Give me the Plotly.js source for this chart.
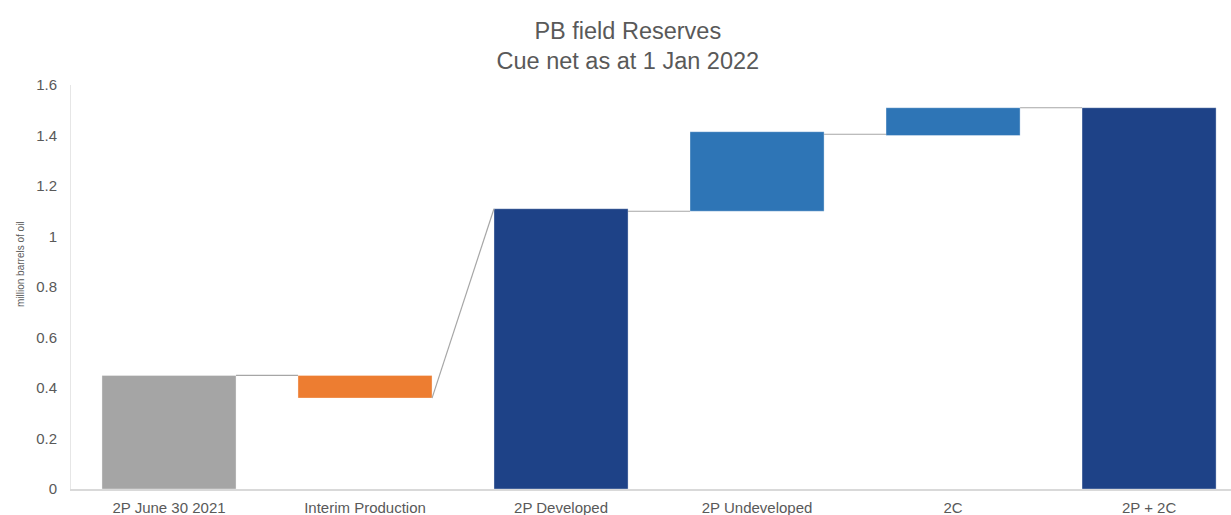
<!DOCTYPE html>
<html>
<head>
<meta charset="utf-8">
<script src="https://cdn.plot.ly/plotly-3.0.1.min.js"></script>
<style>html,body{margin:0;padding:0;background:#fff;}#chart{width:1231px;height:515px;}</style>
</head>
<body>
<div id="chart"></div>
<script>
// Data
var categories = ['2P June 30 2021', 'Interim Production', '2P Developed', '2P Undeveloped', '2C', '2P + 2C'];
var barBases = [0, 0.36, 0, 1.10, 1.40, 0];
var barTops = [0.45, 0.45, 1.11, 1.415, 1.51, 1.51];
var barColors = ['#A5A5A5', '#ED7D31', '#1E4287', '#2E75B6', '#2E75B6', '#1E4287'];
// connector levels: leaving bar i (end level) -> arriving at bar i+1 (start level)
var connFrom = [0.45, 0.36, 1.10, 1.405, 1.51];
var connTo = [0.45, 1.11, 1.10, 1.405, 1.51];
var yTickVals = [0, 0.2, 0.4, 0.6, 0.8, 1, 1.2, 1.4, 1.6];
var yTickText = ['0', '0.2', '0.4', '0.6', '0.8', '1', '1.2', '1.4', '1.6'];

var barWidth = 0.684;
var idx = categories.map(function(_, i){ return i; });

var traces = [];
traces.push({
  type: 'bar',
  x: idx,
  y: barTops.map(function(t, i){ return t - barBases[i]; }),
  base: barBases,
  width: barWidth,
  marker: {color: barColors, line: {color: 'rgba(255,255,255,0.35)', width: 1}},
  hoverinfo: 'skip',
  showlegend: false
});

var cx = [], cy = [];
for (var i = 0; i < connFrom.length; i++) {
  cx.push(i + barWidth / 2, i + 1 - barWidth / 2, null);
  cy.push(connFrom[i], connTo[i], null);
}
traces.push({
  type: 'scatter',
  mode: 'lines',
  x: cx,
  y: cy,
  line: {color: '#A6A6A6', width: 1.2},
  hoverinfo: 'skip',
  showlegend: false,
  cliponaxis: false
});

var layout = {
  width: 1231,
  height: 515,
  margin: {l: 71, r: 0, t: 85, b: 26},
  paper_bgcolor: '#ffffff',
  plot_bgcolor: '#ffffff',
  font: {family: 'Liberation Sans, Arial, sans-serif', color: '#595959'},
  title: {
    text: 'PB field Reserves<br>Cue net as at 1 Jan 2022',
    x: 0.51,
    xanchor: 'center',
    y: 0.925,
    yanchor: 'top',
    font: {size: 23.5, color: '#595959'}
  },
  xaxis: {
    type: 'linear',
    range: [-0.5, 5.418],
    tickmode: 'array',
    tickvals: idx,
    ticktext: categories,
    showgrid: false,
    zeroline: false,
    showline: true,
    linecolor: '#D9D9D9',
    linewidth: 2,
    ticks: '',
    ticklabelstandoff: 4,
    tickfont: {size: 15, color: '#595959'}
  },
  yaxis: {
    range: [0, 1.6],
    tickmode: 'array',
    tickvals: yTickVals,
    ticktext: yTickText,
    showgrid: false,
    zeroline: false,
    showline: true,
    linecolor: '#E6E6E6',
    linewidth: 1,
    ticks: '',
    ticklabelstandoff: 10,
    tickfont: {size: 15, color: '#595959'}
  },
  annotations: [{
    text: 'million barrels of oil',
    textangle: -90,
    xref: 'paper', yref: 'paper',
    x: -51 / 1160, y: 225 / 404,
    xanchor: 'center', yanchor: 'middle',
    showarrow: false,
    font: {size: 10, color: '#595959'}
  }],
  bargap: 0
};

Plotly.newPlot('chart', traces, layout, {displayModeBar: false, staticPlot: true});
</script>
</body>
</html>
